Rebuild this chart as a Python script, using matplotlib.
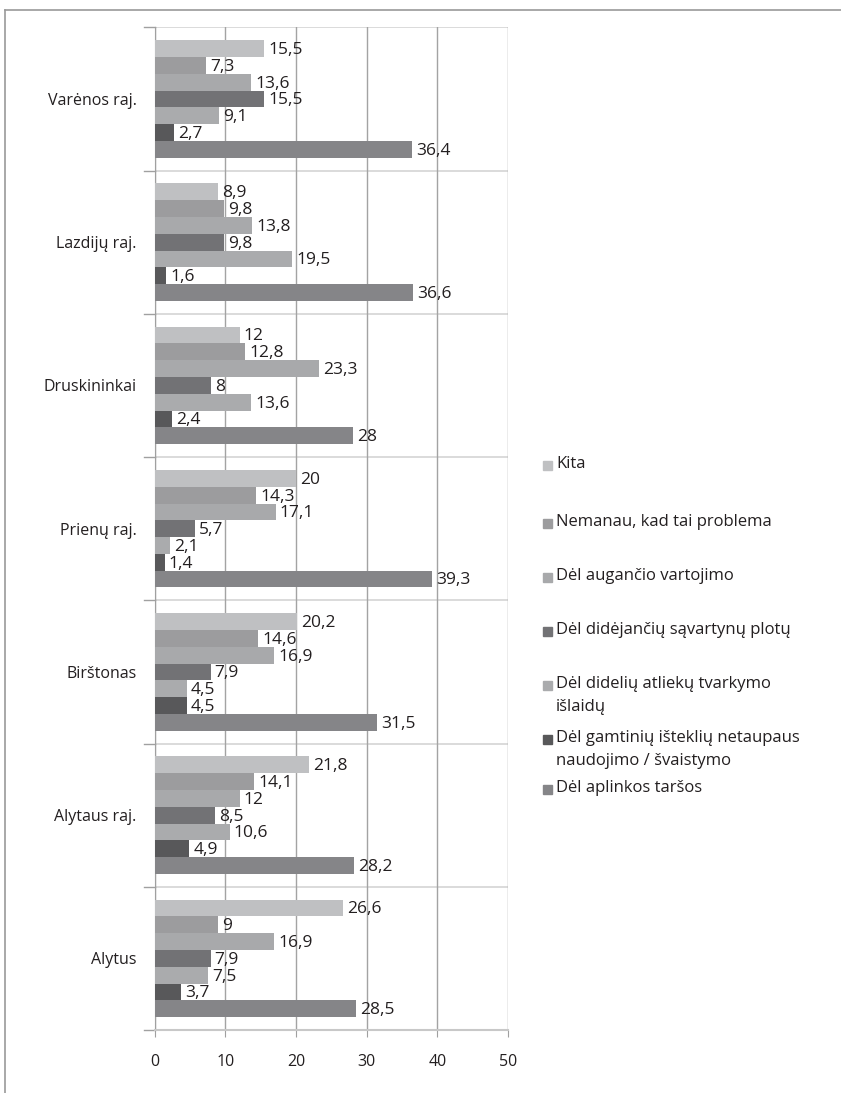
import numpy as np
import matplotlib.pyplot as plt
from matplotlib.lines import Line2D
from matplotlib.patches import Rectangle

# Categories listed top to bottom as in the chart
places = ['Varėnos raj.', 'Lazdijų raj.', 'Druskininkai', 'Prienų raj.',
          'Birštonas', 'Alytaus raj.', 'Alytus']

series_names = ['Kita',
                'Nemanau, kad tai problema',
                'Dėl augančio vartojimo',
                'Dėl didėjančių sąvartynų plotų',
                'Dėl didelių atliekų tvarkymo\nišlaidų',
                'Dėl gamtinių išteklių netaupaus\nnaudojimo / švaistymo',
                'Dėl aplinkos taršos']

kita = [15.5, 8.9, 12, 20, 20.2, 21.8, 26.6]
nemanau = [7.3, 9.8, 12.8, 14.3, 14.6, 14.1, 9]
augancio = [13.6, 13.8, 23.3, 17.1, 16.9, 12, 16.9]
didejanciu = [15.5, 9.8, 8, 5.7, 7.9, 8.5, 7.9]
dideliu = [9.1, 19.5, 13.6, 2.1, 4.5, 10.6, 7.5]
gamtiniu = [2.7, 1.6, 2.4, 1.4, 4.5, 4.9, 3.7]
aplinkos = [36.4, 36.6, 28, 39.3, 31.5, 28.2, 28.5]

series = [kita, nemanau, augancio, didejanciu, dideliu, gamtiniu, aplinkos]
colors = ['#bfc0c2', '#9c9c9e', '#a8a9ab', '#727275', '#aaabad', '#58585a', '#858588']

plt.rcParams['font.family'] = ['Open Sans', 'DejaVu Sans']
text_col = '#231f20'

fig = plt.figure(figsize=(8.41, 10.93), dpi=100)
ax = fig.add_axes([0.184, 0.0576, 0.42, 0.9174])

n_cat = len(places)
n_ser = len(series)
bar_h = 0.82 / n_ser
# category 0 (Varėnos) at the top
centers = np.arange(n_cat)[::-1].astype(float)

for i, (vals, col) in enumerate(zip(series, colors)):
    ypos = centers + 0.41 - bar_h * (i + 0.5)
    ax.barh(ypos, vals, height=bar_h, color=col, zorder=3)
    for y, v in zip(ypos, vals):
        lab = f'{v:g}'.replace('.', ',')
        ax.annotate(lab, (v, y), xytext=(3, -1), textcoords='offset points',
                    ha='left', va='center', fontsize=12.5, color=text_col, zorder=4)

ax.set_xlim(0, 50)
ax.set_ylim(-0.5, n_cat - 0.5)
ax.set_xticks(range(0, 51, 10))
ax.set_yticks(centers)
ax.set_yticklabels(places)
ax.tick_params(axis='y', length=0, pad=13, labelsize=11.5, labelcolor=text_col)
ax.tick_params(axis='x', length=5, color='#a0a0a0', pad=12, labelsize=11.5,
               labelcolor=text_col)

# vertical gridlines
ax.grid(axis='x', color='#a3a3a3', linewidth=1, zorder=0)
# horizontal category separators with small ticks to the left
for b in np.arange(-0.5, n_cat, 1.0):
    ax.axhline(b, color='#d4d4d4', linewidth=1.2, zorder=1)
    ax.plot([-0.03, 0], [b, b], transform=ax.get_yaxis_transform(),
            color='#a0a0a0', linewidth=1, clip_on=False)

for s in ['top', 'right']:
    ax.spines[s].set_visible(False)
ax.spines['left'].set_color('#a0a0a0')
ax.spines['bottom'].set_color('#c8c8c8')
ax.spines['bottom'].set_linewidth(1.5)

# legend drawn by hand, squares aligned with the first text line
leg_y = [465, 523, 577, 631, 685, 739, 789]
for name, col, yy in zip(series_names, colors, leg_y):
    yf = 1 - yy / 1093
    fig.patches.append(Rectangle((543 / 841, yf - 4.5 / 1093), 9 / 841, 9 / 1093,
                                 transform=fig.transFigure, color=col))
    fig.text(556 / 841, yf + 9 / 1093, name, ha='left', va='top',
             fontsize=12, color=text_col, linespacing=1.6)

# outer frame (top and left edge only)
fig.add_artist(Line2D([5 / 841, 1], [1 - 10 / 1093, 1 - 10 / 1093],
                      transform=fig.transFigure, color='#9a9a9a', linewidth=1.2))
fig.add_artist(Line2D([5 / 841, 5 / 841], [0, 1 - 10 / 1093],
                      transform=fig.transFigure, color='#9a9a9a', linewidth=1.2))

fig.savefig('out.png', dpi=100)
